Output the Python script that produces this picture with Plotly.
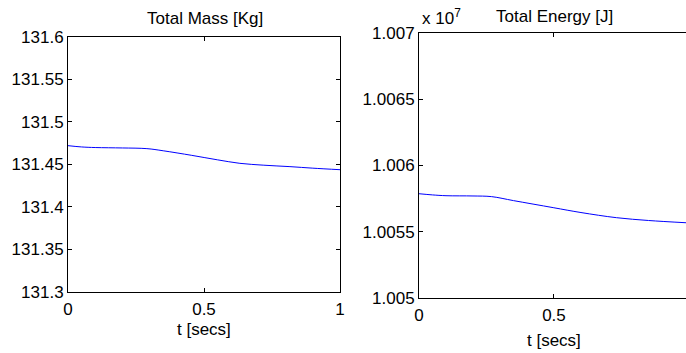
import plotly.graph_objects as go

# Data
t_mass = [0.0, 0.05, 0.1, 0.2, 0.29, 0.35, 0.455, 0.55, 0.632, 0.72, 0.816, 0.9, 1.0]
mass = [131.472, 131.4705, 131.4698, 131.4693, 131.4685, 131.4660, 131.4606, 131.4553, 131.4512, 131.4490, 131.4473, 131.4455, 131.4437]

t_energy = [0.0, 0.05, 0.1, 0.2, 0.269, 0.35, 0.497, 0.6, 0.732, 0.85, 0.989]
energy = [1.005787, 1.005778, 1.005772, 1.005770, 1.005765, 1.005735, 1.005682, 1.005645, 1.005606, 1.005585, 1.005568]  # x 1e7

mass_ticks = [131.3, 131.35, 131.4, 131.45, 131.5, 131.55, 131.6]
mass_ticktext = ["131.3", "131.35", "131.4", "131.45", "131.5", "131.55", "131.6"]
energy_ticks = [1.005, 1.0055, 1.006, 1.0065, 1.007]
energy_ticktext = ["1.005", "1.0055", "1.006", "1.0065", "1.007"]
x_ticks = [0, 0.5, 1]
x_ticktext = ["0", "0.5", "1"]

W, H = 686, 353
FONT = "Liberation Sans, Arial, sans-serif"
FS = 17

fig = go.Figure()
fig.add_trace(go.Scatter(x=t_mass, y=mass, mode="lines", line=dict(color="#0000FF", width=1, shape="spline"),
                         xaxis="x", yaxis="y", showlegend=False))
fig.add_trace(go.Scatter(x=t_energy, y=energy, mode="lines", line=dict(color="#0000FF", width=1, shape="spline"),
                         xaxis="x2", yaxis="y2", showlegend=False))

ax_common = dict(showgrid=False, zeroline=False, showline=True, linecolor="black", linewidth=1,
                 ticks="inside", ticklen=4, tickcolor="black", automargin=False,
                 tickfont=dict(family=FONT, size=FS, color="black"))

fig.update_layout(
    width=W, height=H, margin=dict(l=0, r=0, t=0, b=0, autoexpand=False),
    paper_bgcolor="white", plot_bgcolor="white",
    font=dict(family=FONT, size=FS, color="black"),
    xaxis=dict(domain=[68/W, 340/W], range=[0, 1], tickvals=x_ticks, ticktext=x_ticktext,
               mirror="ticks", anchor="y", ticklabelstandoff=2, **ax_common),
    yaxis=dict(domain=[(H-291.7)/H, (H-37)/H], range=[131.3, 131.6], tickvals=mass_ticks,
               ticktext=mass_ticktext, mirror="ticks", anchor="x", ticklabelstandoff=0, **ax_common),
    xaxis2=dict(domain=[419/W, 1.0], range=[0, 0.989], tickvals=x_ticks, ticktext=x_ticktext,
                mirror="ticks", anchor="y2", ticklabelstandoff=2, **ax_common),
    yaxis2=dict(domain=[(H-298)/H, (H-33)/H], range=[1.005, 1.007], tickvals=energy_ticks,
                ticktext=energy_ticktext, mirror=False, anchor="x2", ticklabelstandoff=0, **ax_common),
)

def ann(text, x, y, size=FS):
    fig.add_annotation(text=text, x=x/W, y=1-y/H, xref="paper", yref="paper",
                       showarrow=False, xanchor="center", yanchor="middle",
                       font=dict(family=FONT, size=size, color="black"))

ann("Total Mass [Kg]", 205, 18)
ann("Total Energy [J]", 554, 17)
ann("x 10<sup>7</sup>", 441, 17)
ann("t [secs]", 204, 329)
ann("t [secs]", 554, 340)

fig.write_html("out.html", config={"displayModeBar": False},
               post_script="document.body.style.margin='0';document.body.style.overflow='hidden';")
